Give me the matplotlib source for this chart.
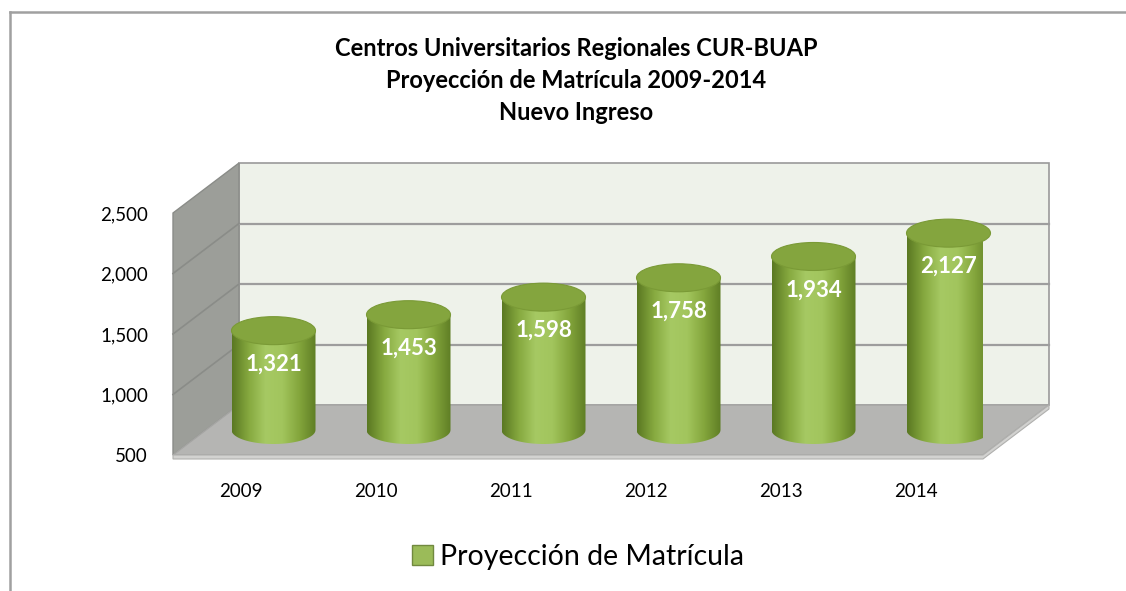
import numpy as np
import matplotlib
matplotlib.use("Agg")
import matplotlib.pyplot as plt
from matplotlib.patches import Polygon, Ellipse, PathPatch, Patch, Rectangle
from matplotlib.path import Path
from matplotlib.colors import LinearSegmentedColormap
from matplotlib.lines import Line2D

plt.rcParams["font.family"] = ["Lato", "DejaVu Sans"]

years = ["2009", "2010", "2011", "2012", "2013", "2014"]
matricula = [1321, 1453, 1598, 1758, 1934, 2127]
y_ticks = [500, 1000, 1500, 2000, 2500]
title_lines = ["Centros Universitarios Regionales CUR-BUAP",
               "Proyección de Matrícula 2009-2014",
               "Nuevo Ingreso"]
serie = "Proyección de Matrícula"

W, H = 1126, 591
fig = plt.figure(figsize=(W / 100, H / 100), dpi=100)

# front plane of the 3-D box, in pixels
left_px, right_px, bot_px, top_px = 173, 983, 455, 213
ax = fig.add_axes([left_px / W, 1 - bot_px / H,
                   (right_px - left_px) / W, (bot_px - top_px) / H])
x0, x1 = -0.5, len(years) - 0.5
y0, y1 = y_ticks[0], y_ticks[-1]
ax.set_xlim(x0, x1)
ax.set_ylim(y0, y1)

# depth of the box, in data units (back plane shift)
px_x = (right_px - left_px) / (x1 - x0)
px_y = (bot_px - top_px) / (y1 - y0)
DX = 66 / px_x
DY = 50 / px_y

# back wall
ax.add_patch(Rectangle((x0 + DX, y0 + DY), x1 - x0, y1 - y0,
                       facecolor="#eef2ea", edgecolor="#9a9a9a", lw=1.2,
                       clip_on=False, zorder=1))
# left wall
ax.add_patch(Polygon([(x0, y0), (x0, y1), (x0 + DX, y1 + DY), (x0 + DX, y0 + DY)],
                     closed=True, facecolor="#9c9e99", edgecolor="#8a8c88", lw=1,
                     clip_on=False, zorder=1))
# gridlines on both walls
for v in y_ticks[1:-1]:
    ax.plot([x0 + DX, x1 + DX], [v + DY, v + DY], color="#9d9d9d", lw=1.6,
            clip_on=False, zorder=2)
    ax.plot([x0, x0 + DX], [v, v + DY], color="#8a8c88", lw=1.2,
            clip_on=False, zorder=2)
# floor
ax.add_patch(Polygon([(x0, y0), (x1, y0), (x1 + DX, y0 + DY), (x0 + DX, y0 + DY)],
                     closed=True, facecolor="#b5b5b3", edgecolor="#a5a5a3", lw=1,
                     clip_on=False, zorder=3))
thick = 4 / px_y
ax.add_patch(Polygon([(x0, y0), (x1, y0), (x1 + DX, y0 + DY), (x1 + DX, y0 + DY - thick),
                      (x1, y0 - thick), (x0, y0 - thick)],
                     closed=True, facecolor="#d2d2d0", edgecolor="#b0b0ae", lw=0.8,
                     clip_on=False, zorder=3))

# cylinders
cmap = LinearSegmentedColormap.from_list(
    "cyl", ["#5a7822", "#86a93f", "#a6c963", "#a2c55d", "#84a63c", "#5f7e25"])
grad = np.linspace(0, 1, 256).reshape(1, -1)
cw = 84 / px_x
eh = 28 / px_y
base = y0 + DY / 2
for i, v in enumerate(matricula):
    xc = i + DX / 2
    top = v + DY / 2
    t = np.linspace(np.pi, 2 * np.pi, 40)
    bottom_arc = [(xc + cw / 2 * np.cos(a), base + eh / 2 * np.sin(a)) for a in t]
    verts = [(xc - cw / 2, top)] + bottom_arc + [(xc + cw / 2, top), (xc - cw / 2, top)]
    body = PathPatch(Path(verts), facecolor="none", edgecolor="none", zorder=4 + i)
    ax.add_patch(body)
    im = ax.imshow(grad, cmap=cmap, aspect="auto", interpolation="bilinear",
                   extent=[xc - cw / 2, xc + cw / 2, base - eh, top], zorder=4 + i)
    im.set_clip_path(body)
    ax.add_patch(Ellipse((xc, top), cw, eh, facecolor="#84a53e", edgecolor="#7a9a36",
                         lw=0.8, clip_on=False, zorder=4 + i))
    ax.annotate(f"{v:,}", (xc, top), xytext=(0, -24), textcoords="offset points",
                ha="center", va="center", color="white", fontsize=16,
                fontweight="bold", zorder=20, annotation_clip=False)

ax.set_xlim(x0, x1)
ax.set_ylim(y0, y1)

ax.set_yticks(y_ticks)
ax.set_yticklabels([f"{t:,}" for t in y_ticks])
ax.set_xticks(range(len(years)))
ax.set_xticklabels(years)
ax.tick_params(axis="y", length=0, pad=18, labelsize=13.5)
ax.tick_params(axis="x", length=0, pad=20, labelsize=13.5)
for s in ax.spines.values():
    s.set_visible(False)
ax.patch.set_visible(False)

for k, line in enumerate(title_lines):
    fig.text(576 / W, 1 - (48 + 32.5 * k) / H, line, ha="center", va="center",
             fontsize=17, fontweight="bold")

fig.legend(handles=[Patch(facecolor="#9bbb59", edgecolor="#71893f", label=serie)],
           loc="center", bbox_to_anchor=(578 / W, 1 - 557 / H), frameon=False,
           fontsize=20.5, handlelength=0.75, handleheight=0.75, handletextpad=0.25)

# chart frame
fig.add_artist(Line2D([10 / W, 1], [1 - 12 / H, 1 - 12 / H], color="#a0a0a0", lw=1.8))
fig.add_artist(Line2D([10 / W, 10 / W], [0, 1 - 12 / H], color="#a0a0a0", lw=1.8))

fig.savefig("out.png", dpi=100)
